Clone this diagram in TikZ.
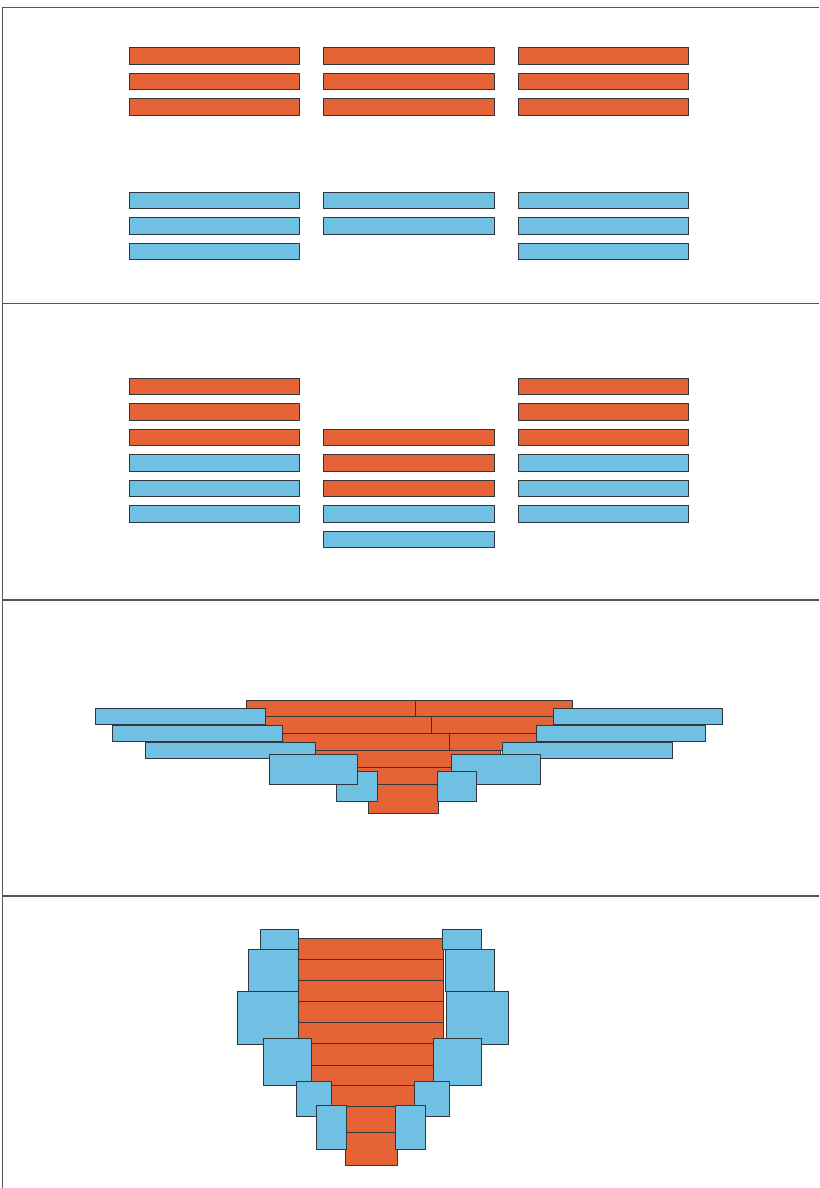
\documentclass[tikz,border=0pt]{standalone}
\begin{document}
\begin{tikzpicture}[x=1pt,y=-1pt,
  org/.style={fill=orgc, draw=edgec, line width=1pt},
  blu/.style={fill=bluc, draw=edgec, line width=1pt},
  frame/.style={draw=framec, line width=1.8pt}]
\definecolor{orgc}{RGB}{228,100,55}
\definecolor{bluc}{RGB}{112,192,228}
\definecolor{edgec}{RGB}{50,55,60}
\definecolor{framec}{RGB}{85,85,85}
\useasboundingbox (0,0) rectangle (819,1188);
\fill[white] (0,0) rectangle (819,1188);
% frame
\draw[frame] (2.5,1188) -- (2.5,7.5) -- (819,7.5);
\draw[frame] (2.5,303.5) -- (819,303.5);
\draw[frame] (2.5,600) -- (819,600);
\draw[frame] (2.5,896) -- (819,896);
% ---------- panel 1
\foreach \x in {129,323.5,518}{
  \foreach \y in {48,73.5,99}{
    \draw[org] (\x,\y) rectangle ++(170.5,16.5);
  }
}
\foreach \x in {129,518}{
  \foreach \y in {192,217.5,243}{
    \draw[blu] (\x,\y) rectangle ++(170.5,16.5);
  }
}
\foreach \y in {192,217.5}{
  \draw[blu] (323.5,\y) rectangle ++(170.5,16.5);
}
% ---------- panel 2
\foreach \x in {129,518}{
  \foreach \y in {378,403.5,429}{
    \draw[org] (\x,\y) rectangle ++(170.5,16.5);
  }
  \foreach \y in {454.5,480,505.5}{
    \draw[blu] (\x,\y) rectangle ++(170.5,16.5);
  }
}
\foreach \y in {429,454.5,480}{
  \draw[org] (323.5,\y) rectangle ++(170.5,16.5);
}
\foreach \y in {505.5,531}{
  \draw[blu] (323.5,\y) rectangle ++(170.5,16.5);
}
% ---------- panel 3
\draw[org] (246,700) rectangle (415.7,716);
\draw[org] (415.7,700) rectangle (572.3,716);
\draw[org] (262,716) rectangle (431.7,733.3);
\draw[org] (431.7,716) rectangle (556,733.3);
\draw[org] (279,733.3) rectangle (449,750.7);
\draw[org] (449,733.3) rectangle (540,750.7);
\draw[org] (300,750.7) rectangle (500,767.3);
\draw[org] (350,767.3) rectangle (460,784.7);
\draw[org] (368.3,784.7) rectangle (438.3,813.3);
% blue rows
\draw[blu] (95,708.3) rectangle (265.7,724.3);
\draw[blu] (112.7,725.2) rectangle (282.7,741.7);
\draw[blu] (145,742.5) rectangle (315.7,758.7);
\draw[blu] (553.3,708.3) rectangle (722.7,724.3);
\draw[blu] (536,725.2) rectangle (705.3,741.7);
\draw[blu] (502.7,742.5) rectangle (672.7,758.7);
% left small then big
\draw[blu] (336.7,771.7) rectangle (377.3,801);
\draw[blu] (269.3,754.3) rectangle (357.3,784);
% right big then small
\draw[blu] (451.7,754.3) rectangle (540,784);
\draw[blu] (437.3,771.7) rectangle (476.7,801);
% ---------- panel 4
\foreach \a/\b in {938.3/959.3,959.3/980.7,980.7/1001.7,1001.7/1022.7,1022.7/1043.3}{
  \draw[org] (298.3,\a) rectangle (443.3,\b);
}
\draw[org] (311.7,1043.3) rectangle (433.3,1065);
\draw[org] (311.7,1065) rectangle (433.3,1085.7);
\draw[org] (326,1085.7) rectangle (420,1106.7);
\draw[org] (346,1106.7) rectangle (396,1132.7);
\draw[org] (345,1132.7) rectangle (397.3,1165);
% left blues
\draw[blu] (260,929.3) rectangle (298.3,949.3);
\draw[blu] (248.3,949.3) rectangle (298.3,991);
\draw[blu] (237.3,991) rectangle (298.3,1044);
\draw[blu] (263.3,1038.3) rectangle (311.7,1085.7);
\draw[blu] (296.7,1081.7) rectangle (331.7,1116.7);
\draw[blu] (316.7,1105) rectangle (346.7,1149.3);
% right blues
\draw[blu] (442.7,929.3) rectangle (481,949.3);
\draw[blu] (445,949.3) rectangle (494.3,991);
\draw[blu] (446.7,991) rectangle (508.3,1044);
\draw[blu] (433.3,1038.3) rectangle (481.7,1085.7);
\draw[blu] (414.3,1081.7) rectangle (449.3,1116.7);
\draw[blu] (395,1105) rectangle (425,1149.3);
\end{tikzpicture}
\end{document}
